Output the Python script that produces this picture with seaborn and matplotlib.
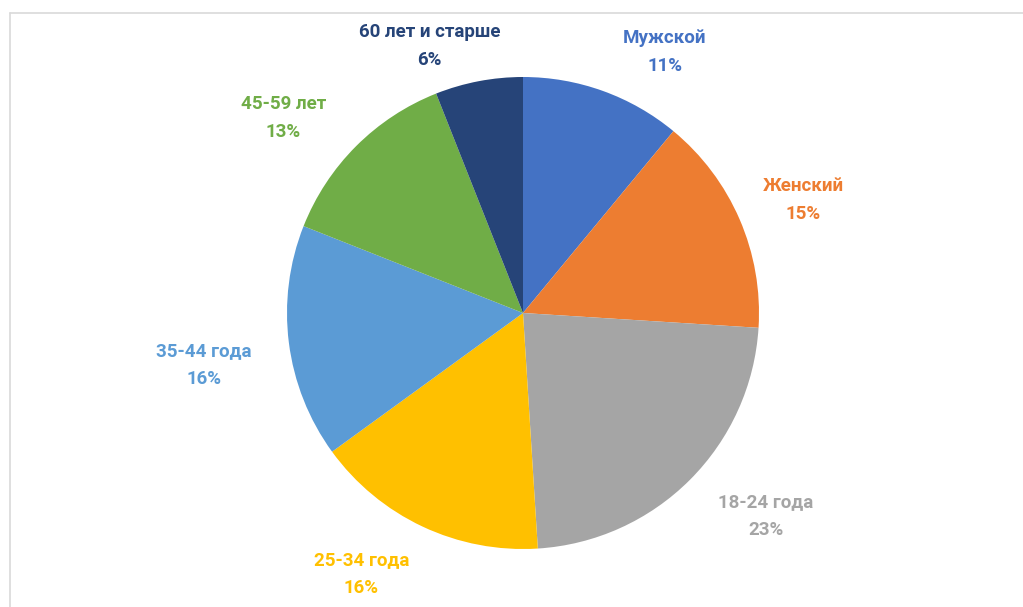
import numpy as np
import matplotlib
matplotlib.use('Agg')
import matplotlib.pyplot as plt
import seaborn as sns
from matplotlib.lines import Line2D

# Data (clockwise from the top)
categories = ['Мужской', 'Женский', '18-24 года', '25-34 года',
              '35-44 года', '45-59 лет', '60 лет и старше']
shares = [11, 15, 23, 16, 16, 13, 6]
slice_colors = ['#4472C4', '#ED7D31', '#A5A5A5', '#FFC000',
                '#5B9BD5', '#70AD47', '#264478']
text_colors = ['#4472C4', '#ED7D31', '#A5A5A5', '#FFC000',
               '#5B9BD5', '#70AD47', '#264478']

sns.set_style('white')
plt.rcParams['font.family'] = ['Roboto', 'DejaVu Sans']

W, H = 1023, 607
fig = plt.figure(figsize=(W / 100, H / 100), dpi=100)
ax = fig.add_axes([0, 0, 1, 1])

cx, cy, R = 523, H - 313, 236
wedges, _ = ax.pie(shares, colors=slice_colors, startangle=90, counterclock=False,
                   center=(cx, cy), radius=R,
                   wedgeprops=dict(linewidth=0))
ax.set_xlim(0, W)
ax.set_ylim(0, H)
ax.set_aspect('equal')
ax.axis('off')

# label placement: distance from centre (in radii) and small angular nudge (deg)
label_dist = [1.26, 1.28, 1.34, 1.30, 1.37, 1.31, 1.20]
angle_nudge = [-8.7, -1.5, 5.1, -6.6, 2.0, 5.8, 8.5]
for w, name, val, col, d, nudge in zip(wedges, categories, shares, text_colors,
                                       label_dist, angle_nudge):
    ang = np.deg2rad((w.theta1 + w.theta2) / 2 + nudge)
    x = cx + d * R * np.cos(ang)
    y = cy + d * R * np.sin(ang)
    ax.text(x, y, f'{name}\n{val}%', ha='center', va='center', color=col,
            fontsize=13.5, fontweight='bold', linespacing=1.7)

# faint chart-area frame (top and left edges visible)
fig.add_artist(Line2D([10 / W, 1], [1 - 13 / H, 1 - 13 / H], color='#D9D9D9', lw=1.2))
fig.add_artist(Line2D([10 / W, 10 / W], [0, 1 - 13 / H], color='#D9D9D9', lw=1.2))

fig.savefig('out.png', dpi=100)
